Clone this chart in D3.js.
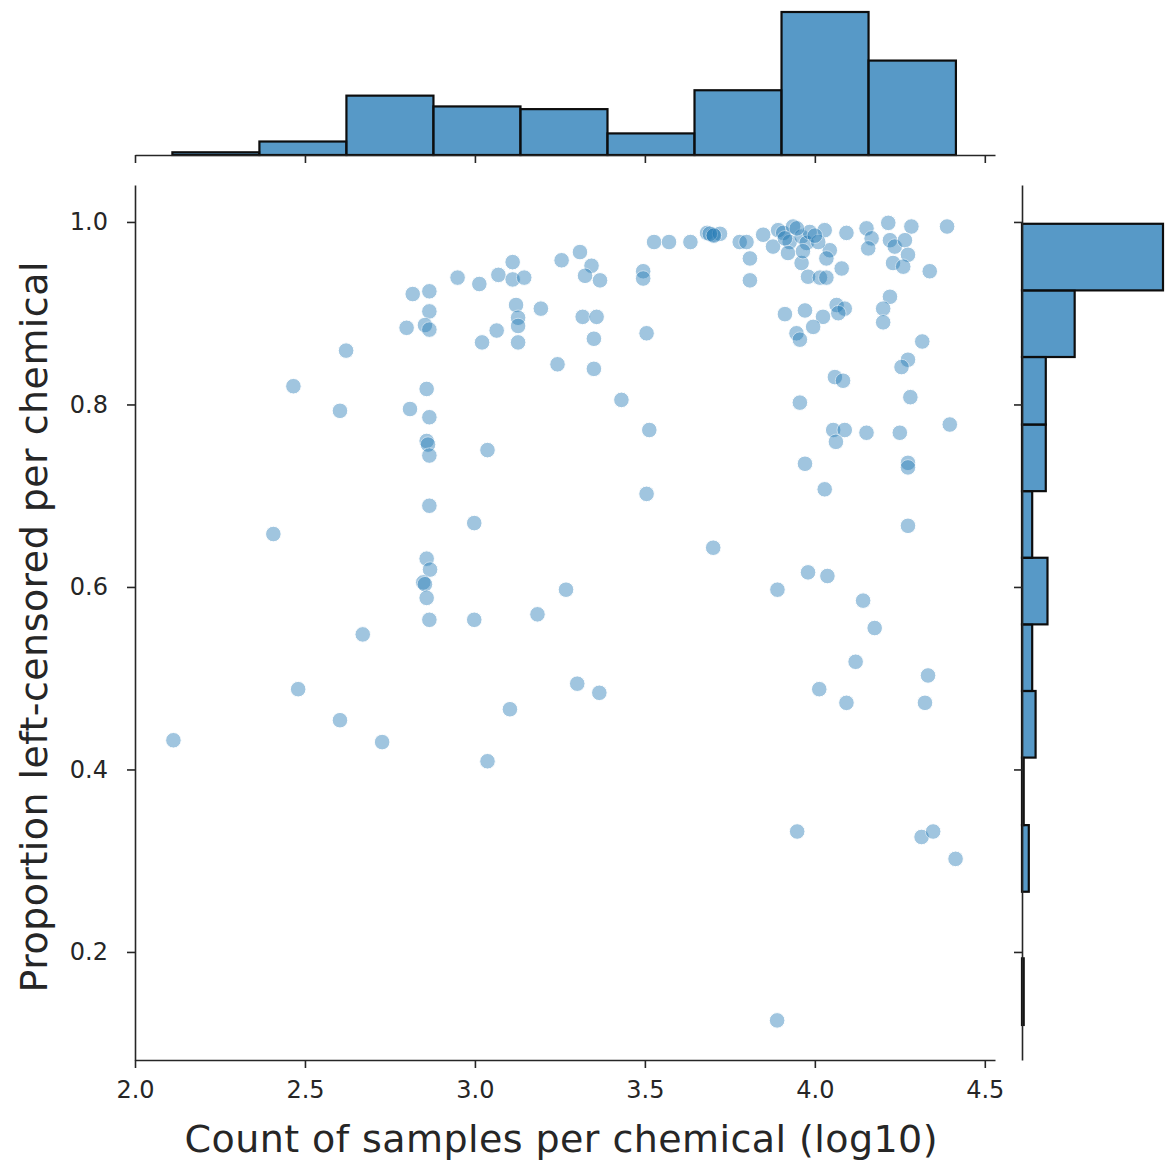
<!DOCTYPE html>
<meta charset="utf-8">
<head>
	<title>Left-censored proportion vs sample count</title>
	<script src="https://cdn.jsdelivr.net/npm/d3@7"></script>
	<style>
		body { margin: 0; background: #fff; }
		.axis path, .axis line { stroke: #262626; stroke-width: 1.6; }
		.axis text { font-family: "DejaVu Sans", sans-serif; font-size: 24px; fill: #262626; }
		.label { font-family: "DejaVu Sans", sans-serif; font-size: 38px; fill: #262626; }
		.bar { fill: #1f77b4; fill-opacity: 0.75; stroke: #0d0d0d; stroke-width: 2.2; }
	</style>
</head>
<body>
<div id="chart"></div>
<script>

	var w = 1173, h = 1167;

	// log10 count of samples per chemical
	var countLog10 = [
		3.111, 3.069, 3.111, 3.145, 3.255, 3.309, 3.343, 3.324, 3.368, 2.949,
		3.013, 2.817, 2.866, 2.866, 2.799, 2.853, 2.866, 3.121, 3.194, 3.127,
		3.127, 3.064, 3.021, 3.127, 3.317, 3.358, 3.350, 3.243, 3.350, 2.621,
		2.466, 2.603, 2.809, 2.858, 2.866, 2.858, 2.862, 2.866, 3.037, 2.866,
		2.998, 2.407, 2.858, 2.868, 2.848, 2.853, 2.858, 2.866, 2.998, 3.184,
		3.268, 2.670, 2.480, 2.603, 2.727, 2.113, 3.037, 3.103, 3.301, 3.366,
		3.527, 3.571, 3.634, 3.683, 3.701, 3.721, 3.691, 3.703, 3.779, 3.799,
		3.809, 3.809, 3.848, 3.892, 3.907, 3.936, 3.877, 3.926, 3.921, 3.961,
		3.976, 3.961, 3.985, 4.029, 4.044, 4.034, 4.010, 3.980, 4.015, 4.034,
		4.079, 4.093, 4.152, 4.167, 4.157, 4.216, 4.221, 4.235, 4.284, 4.265,
		4.274, 4.230, 4.260, 4.338, 4.389, 3.495, 3.495, 3.505, 3.912, 3.971,
		4.024, 4.064, 4.088, 4.069, 3.995, 3.946, 3.956, 4.221, 4.201, 4.201,
		4.316, 4.274, 4.255, 4.059, 4.083, 3.431, 3.956, 4.281, 3.513, 4.054,
		4.088, 4.152, 4.250, 4.397, 4.062, 3.971, 4.274, 4.274, 4.029, 3.505,
		4.274, 3.701, 3.980, 4.037, 3.890, 4.142, 4.176, 4.120, 4.333, 4.013,
		4.093, 4.324, 3.948, 4.314, 4.348, 4.414, 3.889, 3.965, 3.947, 4.000,
		3.912
	];
	// proportion of left-censored values per chemical
	var propCensored = [
		0.956, 0.942, 0.937, 0.939, 0.958, 0.967, 0.952, 0.941, 0.936, 0.939,
		0.932, 0.921, 0.924, 0.902, 0.884, 0.887, 0.882, 0.909, 0.905, 0.895,
		0.886, 0.881, 0.868, 0.868, 0.896, 0.896, 0.872, 0.844, 0.839, 0.859,
		0.820, 0.793, 0.795, 0.817, 0.786, 0.760, 0.756, 0.744, 0.750, 0.689,
		0.670, 0.658, 0.631, 0.619, 0.605, 0.603, 0.588, 0.564, 0.564, 0.570,
		0.597, 0.548, 0.488, 0.454, 0.430, 0.432, 0.409, 0.466, 0.494, 0.484,
		0.978, 0.978, 0.978, 0.988, 0.986, 0.987, 0.987, 0.985, 0.978, 0.978,
		0.960, 0.936, 0.986, 0.991, 0.988, 0.995, 0.973, 0.978, 0.966, 0.984,
		0.977, 0.955, 0.989, 0.991, 0.969, 0.960, 0.978, 0.940, 0.939, 0.939,
		0.949, 0.988, 0.993, 0.982, 0.971, 0.999, 0.980, 0.973, 0.995, 0.980,
		0.964, 0.955, 0.951, 0.946, 0.995, 0.946, 0.938, 0.878, 0.899, 0.903,
		0.896, 0.909, 0.905, 0.900, 0.885, 0.878, 0.871, 0.918, 0.905, 0.890,
		0.869, 0.849, 0.841, 0.830, 0.826, 0.805, 0.802, 0.808, 0.772, 0.772,
		0.772, 0.769, 0.769, 0.778, 0.759, 0.735, 0.736, 0.731, 0.707, 0.702,
		0.667, 0.643, 0.616, 0.612, 0.597, 0.585, 0.555, 0.518, 0.503, 0.488,
		0.473, 0.473, 0.332, 0.326, 0.332, 0.302, 0.125, 0.968, 0.993, 0.985,
		0.982
	];

	// marginal histograms (counts per bin)
	var topBinEdges = [2.11, 2.366, 2.622, 2.878, 3.134, 3.39, 3.646, 3.902, 4.158, 4.415];
	var topCounts = [1, 5, 22, 18, 17, 8, 24, 53, 35];
	var sideBinEdges = [0.12, 0.193, 0.266, 0.339, 0.413, 0.486, 0.559, 0.632, 0.705, 0.778, 0.852, 0.925, 0.998];
	var sideCounts = [1, 0, 4, 1, 8, 6, 15, 6, 14, 14, 31, 83];

	var xTicks = [2.0, 2.5, 3.0, 3.5, 4.0, 4.5];
	var yTicks = [0.2, 0.4, 0.6, 0.8, 1.0];

	var svg = d3.select("#chart").append("svg")
		.attr("width", w)
		.attr("height", h);

	var x = d3.scaleLinear().domain([2.0, 4.53]).range([135, 995]);
	var y = d3.scaleLinear().domain([0.0816, 1.0405]).range([1060, 185]);
	var cTop = d3.scaleLinear().domain([0, 53]).range([155, 12]);
	var cSide = d3.scaleLinear().domain([0, 83]).range([1022, 1163]);

	// top marginal
	svg.append("g").selectAll("rect")
		.data(topCounts)
		.enter().append("rect")
		.attr("class", "bar")
		.attr("x", (d, i) => x(topBinEdges[i]))
		.attr("width", (d, i) => x(topBinEdges[i + 1]) - x(topBinEdges[i]))
		.attr("y", d => cTop(d))
		.attr("height", d => cTop(0) - cTop(d));

	// right marginal
	svg.append("g").selectAll("rect")
		.data(sideCounts)
		.enter().append("rect")
		.attr("class", "bar")
		.attr("x", cSide(0))
		.attr("width", d => cSide(d) - cSide(0))
		.attr("y", (d, i) => y(sideBinEdges[i + 1]))
		.attr("height", (d, i) => y(sideBinEdges[i]) - y(sideBinEdges[i + 1]))
		.style("display", d => d == 0 ? "none" : null);

	// scatter
	var pts = countLog10.map((v, i) => ({x: v, y: propCensored[i]}));
	svg.append("g").selectAll("circle")
		.data(pts)
		.enter().append("circle")
		.attr("cx", d => x(d.x))
		.attr("cy", d => y(d.y))
		.attr("r", 7.8)
		.attr("fill", "#1f77b4")
		.attr("stroke", "#fff")
		.attr("stroke-width", 1)
		.attr("opacity", 0.42);

	// axes
	svg.append("g").attr("class", "axis")
		.attr("transform", "translate(0,1060)")
		.call(d3.axisBottom(x).tickValues(xTicks).tickFormat(d3.format(".1f"))
			.tickSize(8).tickSizeOuter(0).tickPadding(13));

	svg.append("g").attr("class", "axis")
		.attr("transform", "translate(135,0)")
		.call(d3.axisLeft(y).tickValues(yTicks).tickFormat(d3.format(".1f"))
			.tickSize(8).tickSizeOuter(0).tickPadding(19));

	svg.append("g").attr("class", "axis")
		.attr("transform", "translate(0,155)")
		.call(d3.axisBottom(x).tickValues(xTicks).tickFormat("")
			.tickSize(8).tickSizeOuter(0));

	svg.append("g").attr("class", "axis")
		.attr("transform", "translate(1022,0)")
		.call(d3.axisLeft(y).tickValues(yTicks).tickFormat("")
			.tickSize(8).tickSizeOuter(0));

	// axis titles
	svg.append("text").attr("class", "label")
		.attr("x", 561).attr("y", 1152)
		.attr("text-anchor", "middle")
		.attr("textLength", 753)
		.text("Count of samples per chemical (log10)");

	svg.append("text").attr("class", "label")
		.attr("transform", "translate(47,627) rotate(-90)")
		.attr("text-anchor", "middle")
		.attr("textLength", 731)
		.text("Proportion left-censored per chemical");

</script>
</body>
</html>
